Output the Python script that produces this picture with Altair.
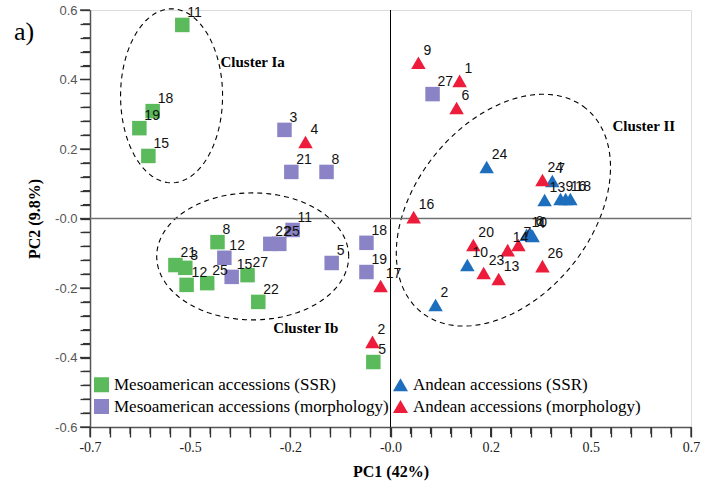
import altair as alt
import pandas as pd
import numpy as np

# ---------------- data ----------------
groups = ["Mesoamerican accessions (SSR)", "Mesoamerican accessions (morphology)",
          "Andean accessions (SSR)", "Andean accessions (morphology)"]
colors = ["#5BBA5B", "#8A84C6", "#1E6EBE", "#EC1C3A"]
shapes = ["square", "square", "triangle-up", "triangle-up"]

meso_ssr_x = [-0.485, -0.554, -0.585, -0.564, -0.403, -0.501, -0.478, -0.475, -0.427, -0.333, -0.308, -0.040]
meso_ssr_y = [0.557, 0.309, 0.260, 0.180, -0.068, -0.134, -0.142, -0.191, -0.186, -0.163, -0.240, -0.413]
meso_ssr_lab = ["11", "18", "19", "15", "8", "21", "3", "12", "25", "27", "22", "5"]

meso_mor_x = [0.098, -0.247, -0.231, -0.149, -0.228, -0.280, -0.259, -0.387, -0.370, -0.137, -0.056, -0.056]
meso_mor_y = [0.358, 0.255, 0.134, 0.134, -0.033, -0.073, -0.073, -0.113, -0.168, -0.128, -0.070, -0.154]
meso_mor_lab = ["27", "3", "21", "8", "11", "22", "25", "12", "15", "5", "18", "19"]

and_ssr_x = [0.224, 0.377, 0.359, 0.396, 0.408, 0.419, 0.317, 0.326, 0.331, 0.179, 0.105]
and_ssr_y = [0.148, 0.108, 0.053, 0.056, 0.056, 0.056, -0.047, -0.045, -0.050, -0.134, -0.249]
and_ssr_lab = ["24", "7", "13", "9", "16", "18", "10", "6", "4", "10", "2"]

and_mor_x = [0.065, 0.161, 0.154, -0.198, 0.054, 0.354, 0.193, 0.217, 0.252, 0.273, 0.298, 0.354, -0.023, -0.042]
and_mor_y = [0.448, 0.396, 0.318, 0.220, 0.004, 0.111, -0.076, -0.157, -0.174, -0.091, -0.076, -0.137, -0.194, -0.355]
and_mor_lab = ["9", "1", "6", "4", "16", "24", "20", "23", "13", "14", "7", "26", "17", "2"]

cluster_names = ["Cluster Ia", "Cluster Ib", "Cluster II"]
cluster_label_x = [-0.396, -0.273, 0.517]
cluster_label_y = [0.450, -0.315, 0.266]
# ellipse: centre (data), semi-axes (px), tilt (deg)
ell_cx = [-0.510, -0.321, 0.263]
ell_cy = [0.353, -0.109, 0.024]
ell_a = [51, 96, 131]
ell_b = [87, 63.5, 88]
ell_tilt = [0, 0, 51]

x_tick_labels = ["-0.7", "-0.5", "-0.2", "-0.0", "0.2", "0.5", "0.7"]
y_tick_labels = ["-0.6", "-0.4", "-0.2", "-0.0", "0.2", "0.4", "0.6"]

# ---------------- tables ----------------
W, H = 601, 417
frames = []
for g, xs, ys, labs in [(groups[0], meso_ssr_x, meso_ssr_y, meso_ssr_lab),
                        (groups[1], meso_mor_x, meso_mor_y, meso_mor_lab),
                        (groups[2], and_ssr_x, and_ssr_y, and_ssr_lab),
                        (groups[3], and_mor_x, and_mor_y, and_mor_lab)]:
    frames.append(pd.DataFrame({"x": xs, "y": ys, "label": labs, "group": g}))
pts = pd.concat(frames, ignore_index=True)

sx, sy = 1.4 / W, 1.2 / H
ell_frames = []
t = np.linspace(0, 2 * np.pi, 145)
for name, cx, cy, a, b, th in zip(cluster_names, ell_cx, ell_cy, ell_a, ell_b, ell_tilt):
    r = np.radians(th)
    px = a * np.cos(t) * np.cos(r) - b * np.sin(t) * np.sin(r)
    py = a * np.cos(t) * np.sin(r) + b * np.sin(t) * np.cos(r)
    ell_frames.append(pd.DataFrame({"x": cx + px * sx, "y": cy + py * sy,
                                    "o": np.arange(len(t)), "cl": name}))
ell = pd.concat(ell_frames, ignore_index=True)

clab = pd.DataFrame({"x": cluster_label_x, "y": cluster_label_y, "t": cluster_names})

x_ticks = [round(-0.7 + i * 1.4 / 30, 6) for i in range(31)]
y_ticks = [round(-0.6 + i * 0.04, 6) for i in range(31)]
xt_major = pd.DataFrame({"v": x_ticks[::5]})
xt_minor = pd.DataFrame({"v": [v for i, v in enumerate(x_ticks) if i % 5]})
yt_major = pd.DataFrame({"v": y_ticks[::5]})
yt_minor = pd.DataFrame({"v": [v for i, v in enumerate(y_ticks) if i % 5]})


def idx(lo, step):
    return f"(abs(datum.value - ({lo})) / {step})"


def major_test(lo, step, n=5):
    k = idx(lo, step)
    return f"({k} % {n} < 0.2 || {k} % {n} > {n - 0.2})"


def label_expr(lo, step, labs, n=5):
    arr = "[" + ",".join("'" + l + "'" for l in labs) + "]"
    return f"{major_test(lo, step, n)} ? {arr}[round({idx(lo, step)} / {n})] : ''"


x_step = 1.4 / 30
y_step = 0.04

xs_ = alt.Scale(domain=[-0.7, 0.7], nice=False, zero=False)
ys_ = alt.Scale(domain=[-0.6, 0.6], nice=False, zero=False)
AX = "#555555"
TICK = "#333333"
SERIF = "Liberation Serif"
SANS = "Liberation Sans"

x_axis = alt.Axis(orient="bottom", values=x_ticks, labelExpr=label_expr(-0.7, x_step, x_tick_labels),
                  ticks=True, tickSize=10,
                  tickColor=TICK, tickWidth=1.3, tickOpacity=1, domainColor=AX, domainWidth=1.5,
                  labelFont=SERIF, labelFontSize=14, labelColor="#222222", labelPadding=3,
                  labelOverlap=False, labelFlush=False, labelBound=False, grid=False,
                  title="PC1 (42%)", titleFont=SERIF,
                  titleFontSize=16, titleFontWeight="bold", titleColor="black", titlePadding=9)
y_axis = alt.Axis(orient="left", values=y_ticks, labelExpr=label_expr(-0.6, y_step, y_tick_labels),
                  ticks=True, tickSize=10,
                  tickColor=TICK, tickWidth=1.3, tickOpacity=1, domainColor=AX, domainWidth=1.5,
                  labelFont=SANS, labelFontSize=13, labelColor="#555555", labelPadding=3,
                  labelOverlap=False, labelFlush=False, labelBound=False, grid=False,
                  title="PC2 (9.8%)", titleFont=SERIF,
                  titleFontSize=16, titleFontWeight="bold", titleColor="black", titlePadding=12)

ellipses = alt.Chart(ell).mark_line(color="black", strokeWidth=1.1, strokeDash=[5, 4]).encode(
    x=alt.X("x:Q", scale=xs_, axis=x_axis),
    y=alt.Y("y:Q", scale=ys_, axis=y_axis),
    order="o:Q", detail="cl:N")

# explicit tick marks (major 10 px, minor 7 px) hanging outside the frame
xmaj = alt.Chart(xt_major).mark_rule(color=TICK, strokeWidth=1.3).encode(
    x=alt.X("v:Q", scale=xs_, axis=x_axis), y=alt.value(H), y2=alt.value(H + 10))
xmin = alt.Chart(xt_minor).mark_rule(color=TICK, strokeWidth=1.3).encode(
    x=alt.X("v:Q", scale=xs_, axis=x_axis), y=alt.value(H), y2=alt.value(H + 7))
ymaj = alt.Chart(yt_major).mark_rule(color=TICK, strokeWidth=1.3).encode(
    y=alt.Y("v:Q", scale=ys_, axis=y_axis), x=alt.value(0), x2=alt.value(-10))
ymin = alt.Chart(yt_minor).mark_rule(color=TICK, strokeWidth=1.3).encode(
    y=alt.Y("v:Q", scale=ys_, axis=y_axis), x=alt.value(0), x2=alt.value(-7))

zero_df = pd.DataFrame({"v": [0.0]})
vline = alt.Chart(zero_df).mark_rule(color="black", strokeWidth=1).encode(x=alt.X("v:Q", scale=xs_, axis=x_axis))
hline = alt.Chart(zero_df).mark_rule(color="#707070", strokeWidth=1.5).encode(y=alt.Y("v:Q", scale=ys_, axis=y_axis))

points = alt.Chart(pts).mark_point(filled=True, opacity=1, size=210, strokeWidth=0).encode(
    x=alt.X("x:Q", scale=xs_, axis=x_axis),
    y=alt.Y("y:Q", scale=ys_, axis=y_axis),
    color=alt.Color("group:N", scale=alt.Scale(domain=groups, range=colors),
                    legend=alt.Legend(orient="none", legendX=3, legendY=366, columns=2, title=None,
                                      symbolSize=225, symbolStrokeWidth=0, labelFont=SERIF,
                                      labelFontSize=17, labelColor="black", labelLimit=500,
                                      columnPadding=3, rowPadding=4, labelOffset=4)),
    shape=alt.Shape("group:N", scale=alt.Scale(domain=groups, range=shapes)))

labels = alt.Chart(pts).mark_text(align="left", baseline="alphabetic", dx=5, dy=-8, font=SANS,
                                  fontSize=14, color="#111111").encode(
    x=alt.X("x:Q", scale=xs_, axis=x_axis), y=alt.Y("y:Q", scale=ys_, axis=y_axis), text="label:N")

cl_text = alt.Chart(clab).mark_text(align="left", baseline="middle", font=SERIF, fontSize=15,
                                    fontWeight="bold", color="black").encode(
    x=alt.X("x:Q", scale=xs_, axis=x_axis), y=alt.Y("y:Q", scale=ys_, axis=y_axis), text="t:N")

panel = alt.Chart(pd.DataFrame({"t": ["a)"]})).mark_text(align="center", baseline="middle", font=SERIF,
                                                          fontSize=26, color="black").encode(
    x=alt.value(-66), y=alt.value(22), text="t:N")

chart = alt.layer(ellipses, xmaj, xmin, ymaj, ymin, vline, hline, points, labels, cl_text, panel).properties(
    width=W, height=H, autosize=alt.AutoSizeParams(type="none"),
    padding={"left": 90, "top": 10, "right": 10, "bottom": 61}
).configure_view(stroke="#707070", strokeWidth=1.5).configure_axis(ticks=True).configure(background="white")

chart.save("out.html", embed_options={"renderer": "svg", "actions": False})
